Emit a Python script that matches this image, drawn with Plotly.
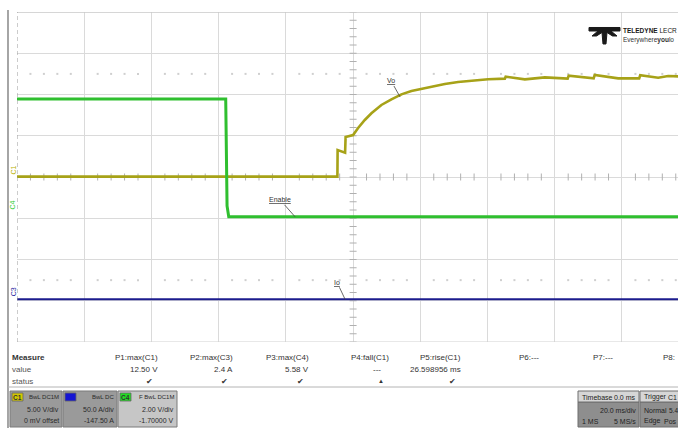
import plotly.graph_objects as go

# ---------------- acquisition data ----------------
# C1: output voltage Vo (V) vs time (ms)
c1_time_ms = [-100, -4.67, -4.61, -2.38, -2.23, 0, 1.49, 3.48, 5.45, 8.42, 11.4, 14.38,
              17.35, 20.03, 23.3, 27.29, 31.25, 35.21, 40.18, 45.15, 45.39, 51.1, 57.05,
              63.84, 64.14, 71.58, 71.87, 78.87, 85.12, 85.42, 90.77, 93.75, 100]
c1_vo_v = [0.05, 0.04, 3.27, 2.95, 4.85, 5.09, 5.94, 6.91, 7.72, 8.73, 9.42, 10.02,
           10.42, 10.67, 10.95, 11.27, 11.52, 11.67, 11.84, 11.92, 12.16, 11.84, 12.08,
           11.92, 12.28, 11.96, 12.36, 11.96, 11.96, 12.33, 12.04, 12.24, 12.16]

# C4: Enable signal (V)
c4_time_ms = [-100, -37.9, -37.5, -37.0, 100]
c4_enable_v = [5.48, 5.48, 0.3, -0.23, -0.23]

# C3: output current Io (A)
c3_time_ms = [-100, 100]
c3_io_a = [-0.8, -0.8]

# channel vertical settings (scale per division, offset)
C1_VDIV, C1_OFFSET = 5.0, 0.0
C3_VDIV, C3_OFFSET = 50.0, -147.5
C4_VDIV, C4_OFFSET = 2.0, -1.7
TIME_DIV_MS = 20.0
N_VDIV = 8

# measurement table
meas_names = ["P1:max(C1)", "P2:max(C3)", "P3:max(C4)", "P4:fall(C1)", "P5:rise(C1)",
              "P6:---", "P7:---", "P8:---"]
meas_values = ["12.50 V", "2.4 A", "5.58 V", "---", "26.598956 ms", "", "", ""]
meas_status = ["✔", "✔", "✔", "▲", "✔", "", "", ""]

# ---------------- geometry ----------------
W, H = 678, 428
X0, X1 = 17, 678          # grid left edge, window right edge
Y_TOP, Y_BOT = 12, 342    # grid top/bottom
DIV_PX = (689.2 - 17) / 10.0
x_right_ms = -100 + (X1 - X0) / DIV_PX * TIME_DIV_MS

FONT = "Liberation Sans Narrow, Arial Narrow, Liberation Sans, Arial, sans-serif"
TXT = "#3a3a3a"


def px(x):
    return x / W


def py(y):
    return 1 - y / H


def ch_range(vdiv, offset):
    c = -offset
    return [c - vdiv * N_VDIV / 2, c + vdiv * N_VDIV / 2]


fig = go.Figure()

# graticule: centre-line ticks and dotted levels
tick_pos = [-100 + 4 * k for k in range(50)]
minor_pos = [t for t in tick_pos if t % 20 != 0]
fig.add_trace(go.Scatter(x=minor_pos, y=[0] * len(minor_pos),
                         mode="markers", marker=dict(symbol="line-ns", size=5,
                                                     line=dict(color="#b0b0b0", width=1)),
                         hoverinfo="skip", showlegend=False))
vt = [-4 + 0.2 * k for k in range(41)]
fig.add_trace(go.Scatter(x=[0] * len(vt), y=vt, mode="markers",
                         marker=dict(symbol="line-ew", size=5,
                                     line=dict(color="#b0b0b0", width=1)),
                         hoverinfo="skip", showlegend=False))
for lvl in (2.5, -2.5):
    fig.add_trace(go.Scatter(x=minor_pos, y=[lvl] * len(minor_pos), mode="markers",
                             marker=dict(symbol="square", size=2, color="#cfcfcf",
                                         line=dict(width=0)),
                             hoverinfo="skip", showlegend=False))

# channel traces
fig.add_trace(go.Scatter(x=c3_time_ms, y=c3_io_a, yaxis="y4", mode="lines",
                         line=dict(color="#1c1c8e", width=2), showlegend=False))
fig.add_trace(go.Scatter(x=c4_time_ms, y=c4_enable_v, yaxis="y3", mode="lines",
                         line=dict(color="#2fbf2f", width=3), showlegend=False))
fig.add_trace(go.Scatter(x=c1_time_ms, y=c1_vo_v, yaxis="y2", mode="lines",
                         line=dict(color="#a7a218", width=2.6), showlegend=False))

# trigger position marker
fig.add_trace(go.Scatter(x=[0], y=[-4.12], mode="markers", cliponaxis=False,
                         marker=dict(symbol="triangle-up", size=7, color="#d6c400"),
                         hoverinfo="skip", showlegend=False))

fig.update_layout(
    width=W, height=H, margin=dict(l=0, r=0, t=0, b=0),
    paper_bgcolor="white", plot_bgcolor="white",
    xaxis=dict(domain=[px(X0), 1], range=[-100, x_right_ms], tickmode="array",
               tickvals=[-80, -60, -40, -20, 0, 20, 40, 60, 80], showgrid=True,
               gridcolor="#dadada", gridwidth=1, zeroline=False, showticklabels=False,
               ticks=""),
    yaxis=dict(domain=[py(Y_BOT), py(Y_TOP)], range=[-4, 4], tickmode="array",
               tickvals=[-3, -2, -1, 0, 1, 2, 3], showgrid=True, gridcolor="#dadada",
               gridwidth=1, zeroline=False, showticklabels=False, ticks=""),
    yaxis2=dict(overlaying="y", range=ch_range(C1_VDIV, C1_OFFSET), visible=False),
    yaxis3=dict(overlaying="y", range=ch_range(C4_VDIV, C4_OFFSET), visible=False),
    yaxis4=dict(overlaying="y", range=ch_range(C3_VDIV, C3_OFFSET), visible=False),
    font=dict(family=FONT, color=TXT, size=8),
)

shapes = []
# grid borders
shapes.append(dict(type="line", xref="paper", yref="y", x0=px(X0), x1=1, y0=4, y1=4,
                   line=dict(color="#c8c8c8", width=1.5)))
shapes.append(dict(type="line", xref="paper", yref="y", x0=px(X0), x1=1, y0=-4, y1=-4,
                   line=dict(color="#d0d0d0", width=1)))
shapes.append(dict(type="line", xref="x", yref="y", x0=-100, x1=-100, y0=-4, y1=4,
                   line=dict(color="#9a9a9a", width=1, dash="4px,3px")))
# window border at left
shapes.append(dict(type="line", xref="paper", yref="paper", x0=px(8), x1=px(8),
                   y0=0, y1=py(10), line=dict(color="#6a6a6a", width=1.2)))
# separator above channel boxes
shapes.append(dict(type="line", xref="paper", yref="paper", x0=px(8), x1=1,
                   y0=py(387), y1=py(387), line=dict(color="#b4b4b4", width=1)))

# channel descriptor boxes
boxes = [
    (10, 62, "#9a9a9a", "C1", "#d4c800", "#333", "BwL DC1M", "5.00 V/div", "0 mV offset"),
    (63, 117, "#9a9a9a", "", "#1414d2", "#fff", "BwL DC", "50.0 A/div", "-147.50 A"),
    (118, 177, "#c6c6c6", "C4", "#22dd22", "#333", "F BwL DC1M", "2.00 V/div", "-1.70000 V"),
]
annotations = []
for x0, x1, fill, lab, labcol, labtxt, l1, l2, l3 in boxes:
    shapes.append(dict(type="rect", xref="paper", yref="paper", x0=px(x0), x1=px(x1),
                       y0=py(427), y1=py(391), fillcolor=fill,
                       line=dict(color="#7a7a7a", width=1)))
    shapes.append(dict(type="rect", xref="paper", yref="paper", x0=px(x0 + 2),
                       x1=px(x0 + 13), y0=py(401), y1=py(393), fillcolor=labcol,
                       line=dict(color="#666", width=0.8)))
    if lab:
        annotations.append(dict(x=px(x0 + 7.5), y=py(397), text=f"<b>{lab}</b>",
                                xref="paper", yref="paper", showarrow=False,
                                xanchor="center", yanchor="middle",
                                font=dict(size=6.5, color=labtxt)))
    for yy, t, sz in ((397, l1, 6), (409, l2, 7), (420, l3, 7)):
        annotations.append(dict(x=px(x1 - 1), y=py(yy), text=t, xref="paper",
                                yref="paper", showarrow=False, xanchor="right",
                                yanchor="middle", font=dict(size=sz, color="#2a2a2a")))

# timebase / trigger boxes
for x0, x1 in ((578, 639), (640, 700)):
    shapes.append(dict(type="rect", xref="paper", yref="paper", x0=px(x0), x1=px(x1),
                       y0=py(427), y1=py(402), fillcolor="#8e8e8e",
                       line=dict(color="#6e6e6e", width=1)))
    shapes.append(dict(type="rect", xref="paper", yref="paper", x0=px(x0), x1=px(x1),
                       y0=py(402), y1=py(391), fillcolor="#d6d6d6",
                       line=dict(color="#6e6e6e", width=1)))
tb_texts = [
    (580, 397, "Timebase", "left"), (638, 397, "0.0 ms", "right"),
    (638, 410, "20.0 ms/div", "right"), (580, 421, "1 MS", "left"),
    (638, 421, "5 MS/s", "right"),
    (642, 397, "Trigger", "left"), (666, 397, "C1", "left"),
    (642, 410, "Normal", "left"), (667, 410, "5.4", "left"),
    (642, 421, "Edge", "left"), (662, 421, "Pos", "left"),
]
for x, y, t, a in tb_texts:
    annotations.append(dict(x=px(x), y=py(y), text=t, xref="paper", yref="paper",
                            showarrow=False, xanchor=a, yanchor="middle",
                            font=dict(size=7 if t != "5.4" else 6.5, color="#222")))

# measurement table
annotations.append(dict(x=px(10), y=py(357), text="<b>Measure</b>", xref="paper",
                        yref="paper", showarrow=False, xanchor="left", yanchor="middle",
                        font=dict(size=8, color="#333")))
annotations.append(dict(x=px(10), y=py(369), text="value", xref="paper", yref="paper",
                        showarrow=False, xanchor="left", yanchor="middle",
                        font=dict(size=8, color="#555")))
annotations.append(dict(x=px(10), y=py(381), text="status", xref="paper", yref="paper",
                        showarrow=False, xanchor="left", yanchor="middle",
                        font=dict(size=8, color="#555")))
col_right = [160, 235, 311, 391, 463, 541, 615, 677]
for xr, nm, val, st in zip(col_right, meas_names, meas_values, meas_status):
    txt = "P8:" if nm == "P8:---" else nm
    annotations.append(dict(x=px(xr), y=py(357), text=txt, xref="paper", yref="paper",
                            showarrow=False, xanchor="right", yanchor="middle",
                            font=dict(size=8, color="#333")))
    if val:
        xv = xr - 8 if val == "---" else xr
        annotations.append(dict(x=px(xv), y=py(369), text=val, xref="paper",
                                yref="paper", showarrow=False, xanchor="right",
                                yanchor="middle", font=dict(size=8, color="#333")))
    if st:
        annotations.append(dict(x=px(xr - 5), y=py(381), text=st, xref="paper",
                                yref="paper", showarrow=False, xanchor="right",
                                yanchor="middle",
                                font=dict(size=8 if st == "✔" else 6, color="#333")))

# channel ground markers on the left edge
for yv, yref, lab, col in ((0, "y2", "C1", "#b8b000"), (0, "y3", "C4", "#33cc33"),
                           (0, "y4", "C3", "#1c1c9e")):
    annotations.append(dict(x=px(13), y=yv, xref="paper", yref=yref, text=lab,
                            showarrow=False, textangle=-90, xanchor="center",
                            yanchor="bottom", font=dict(size=7, color=col)))

# trace labels with leader lines
labels = [
    (13.99, 9.70, "y2", "Vo", -9, -16),
    (-17.26, -0.23, "y3", "Enable", -15, -17),
    (-2.38, -0.8, "y4", "Io", -8, -17),
]
for x, y, yref, t, ax, ay in labels:
    annotations.append(dict(x=x, y=y, xref="x", yref=yref, text=f"<u>{t}</u>",
                            showarrow=True, arrowhead=0, arrowwidth=0.8,
                            arrowcolor="#444", ax=ax, ay=ay,
                            font=dict(size=7, color="#333")))

# Teledyne LeCroy logo mark
logo_path = ("M 589 27.5 L 620 27.5 L 620 31 L 611 31 L 617 36 L 612.5 36 L 607 32.5 "
             "L 606 44 L 603 44 L 602 32.5 L 596.5 36 L 592 36 L 598 31 L 589 31 Z")


def to_paper_path(p):
    out = []
    toks = p.split()
    i = 0
    while i < len(toks):
        tk = toks[i]
        if tk in ("M", "L"):
            out.append(f"{tk} {px(float(toks[i + 1])):.5f},{py(float(toks[i + 2])):.5f}")
            i += 3
        else:
            out.append(tk)
            i += 1
    return " ".join(out)


shapes.append(dict(type="path", xref="paper", yref="paper", path=to_paper_path(logo_path),
                   fillcolor="#1a1a1a", line=dict(color="#1a1a1a", width=1)))
annotations.append(dict(x=px(621), y=py(31), text="<b>TELEDYNE</b> LECR",
                        xref="paper", yref="paper", showarrow=False, xanchor="left",
                        yanchor="middle", font=dict(size=6.5, color="#1a1a1a")))
annotations.append(dict(x=px(621), y=py(40), text="Everywhere<b>you</b>lo",
                        xref="paper", yref="paper", showarrow=False, xanchor="left",
                        yanchor="middle", font=dict(size=6.5, color="#333")))

fig.update_layout(shapes=shapes, annotations=annotations)
fig.write_html("out.html")
